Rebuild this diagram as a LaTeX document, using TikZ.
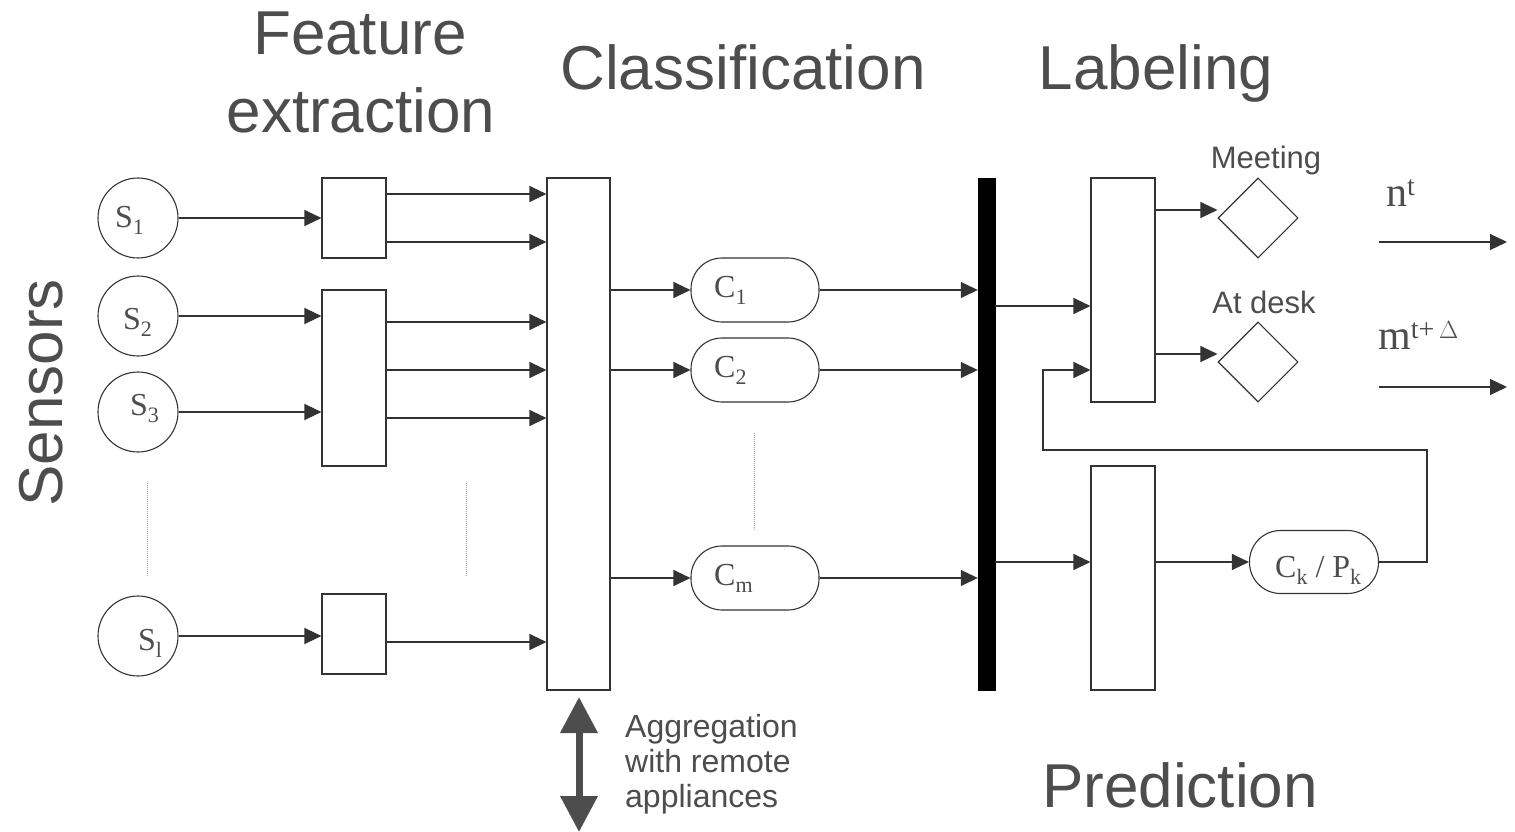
\documentclass[tikz,border=0pt]{standalone}
\usepackage{fontspec}
\setmainfont{Liberation Sans}
\newfontfamily\serifface{Liberation Serif}
\usetikzlibrary{arrows.meta,shapes.geometric,calc}
\definecolor{txt}{HTML}{4D4D4D}
\definecolor{ln}{HTML}{333333}
\newcommand\mysub[1]{\raisebox{-7pt}{\fontsize{22}{22}\selectfont #1}}
\newcommand\mysup[1]{\raisebox{11pt}{\fontsize{28}{28}\selectfont #1}}
\begin{document}
\begin{tikzpicture}[x=1pt,y=-1pt,
  box/.style={draw=ln,line width=1.1pt,fill=white,minimum width=64pt,inner sep=0pt},
  sensor/.style={circle,draw=ln,line width=1.1pt,minimum size=80pt,inner sep=0pt},
  pill/.style={draw=ln,line width=1.1pt,rounded corners=31pt,minimum width=128pt,minimum height=64pt,inner sep=0pt},
  dia/.style={diamond,draw=ln,line width=1.1pt,aspect=1,minimum size=80pt,inner sep=0pt},
  arr/.style={draw=ln,line width=1.1pt,-{Triangle[length=17pt,width=16pt]}},
  dots/.style={draw=gray!70,line width=1pt,densely dotted},
  bigarr/.style={draw=txt,line width=7pt,{Triangle[length=36pt,width=36pt]}-{Triangle[length=36pt,width=36pt]}},
  title/.style={text=txt,font=\fontsize{62}{62}\selectfont,inner sep=0pt,anchor=base},
  small/.style={text=txt,font=\fontsize{31}{30}\selectfont,inner sep=0pt},
  lab/.style={text=txt,font=\serifface\fontsize{32}{32}\selectfont,inner sep=0pt,anchor=base west},
  outlab/.style={text=txt,font=\serifface\fontsize{42}{42}\selectfont,inner sep=0pt,anchor=base west}
]
\useasboundingbox (0,0) rectangle (1515,832);

% titles
\node[title] (tfe1) at (360,55) {Feature};
\node[title] (tfe2) at (361,132) {extraction};
\node[title] (tcl) at (743,90) {Classification};
\node[title] (tlb) at (1156,90) {Labeling};
\node[title] (tpr) at (1180,807) {Prediction};
\node[title,rotate=90] (tse) at (62,393) {Sensors};

% row coordinates
\coordinate (r194) at (0,194);
\coordinate (r242) at (0,242);
\coordinate (r322) at (0,322);
\coordinate (r370) at (0,370);
\coordinate (r418) at (0,418);
\coordinate (r642) at (0,642);
\coordinate (r306) at (0,306);
\coordinate (r210) at (0,210);
\coordinate (r354) at (0,354);

% sensors
\node[sensor] (s1) at (138,218) {};
\node[sensor] (s2) at (138,316) {};
\node[sensor] (s3) at (138,412) {};
\node[sensor] (sl) at (138,636) {};
\node[lab] (s1t) at (115,227) {S\mysub{1}};
\node[lab] (s2t) at (123,329) {S\mysub{2}};
\node[lab] (s3t) at (130,415) {S\mysub{3}};
\node[lab] (slt) at (138,650) {S\mysub{l}};

% feature boxes
\node[box,minimum height=80pt] (f1) at (354,218) {};
\node[box,minimum height=176pt] (f2) at (354,378) {};
\node[box,minimum height=80pt] (f3) at (354,634) {};

% aggregation box
\node[box,minimum width=63pt,minimum height=512pt] (agg) at (578.5,434) {};

% classifiers
\node[pill] (c1) at (755,290) {};
\node[pill] (c2) at (755,370) {};
\node[pill] (cm) at (755,578) {};
\node[lab] (c1t) at (714,297) {C\mysub{1}};
\node[lab] (c2t) at (714,377) {C\mysub{2}};
\node[lab] (cmt) at (714,585) {C\mysub{m}};

% bar
\node[draw=black,fill=black,minimum width=17pt,minimum height=512pt,inner sep=0pt] (bar) at (986.5,434) {};

% labeling / prediction
\node[box,minimum height=224pt] (lb) at (1123,290) {};
\node[box,minimum height=224pt] (pr) at (1123,578) {};
\node[dia] (meet) at (1258,218) {};
\node[dia] (desk) at (1258,362) {};
\node[small,anchor=base] (meett) at (1266,168) {Meeting};
\node[small,anchor=base] (deskt) at (1264,313) {At desk};
\node[pill,minimum width=129pt,minimum height=63pt] (ck) at (1314,562) {};
\node[lab] (ckt) at (1275,577) {C\mysub{k} / P\mysub{k}};

% outputs
\node[outlab] (nt) at (1386,206) {n\mysup{t}};
\node[outlab] (mt) at (1378,349) {m\mysup{t+\,$\Delta$}};
\coordinate (n0) at (1379,242);
\coordinate (n1) at (1507,242);
\coordinate (m0) at (1379,387);
\coordinate (m1) at (1507,387);

% aggregation text and arrow
\node[text=txt,font=\fontsize{32}{35}\selectfont,inner sep=0pt,anchor=base west,align=left] (aggt) at (625,807) {Aggregation\\with remote\\appliances};
\coordinate (d0) at (579,697);
\coordinate (d1) at (579,832);
\draw[bigarr] (d0) -- (d1);

% connectors: sensors -> features
\draw[arr] (s1) -- (f1);
\draw[arr] (s2.east) -- (s2.east -| f2.west);
\draw[arr] (s3.east) -- (s3.east -| f2.west);
\draw[arr] (sl.east) -- (sl.east -| f3.west);

% features -> aggregation
\draw[arr] (f1.east |- r194) -- (agg.west |- r194);
\draw[arr] (f1.east |- r242) -- (agg.west |- r242);
\draw[arr] (f2.east |- r322) -- (agg.west |- r322);
\draw[arr] (f2.east |- r370) -- (agg.west |- r370);
\draw[arr] (f2.east |- r418) -- (agg.west |- r418);
\draw[arr] (f3.east |- r642) -- (agg.west |- r642);

% aggregation -> classifiers -> bar
\draw[arr] (agg.east |- c1) -- (c1);
\draw[arr] (agg.east |- c2) -- (c2);
\draw[arr] (agg.east |- cm) -- (cm);
\draw[arr] (c1) -- (bar.west |- c1);
\draw[arr] (c2) -- (bar.west |- c2);
\draw[arr] (cm) -- (bar.west |- cm);

% bar -> labeling / prediction
\draw[arr] (bar.east |- r306) -- (lb.west |- r306);
\draw[arr] (bar.east |- ck) -- (pr.west |- ck);
\draw[arr] (pr.east |- ck) -- (ck);

% labeling -> states
\draw[arr] (lb.east |- r210) -- (meet.west |- r210);
\draw[arr] (lb.east |- r354) -- (desk.west |- r354);

% feedback
\coordinate (fbA) at (1427,450);
\coordinate (fbB) at (1043,370);
\draw[arr] (ck.east) -| (fbA) -| (fbB) -- (fbB -| lb.west);

% outputs
\draw[arr] (n0) -- (n1);
\draw[arr] (m0) -- (m1);

% dotted continuation lines
\draw[dots] (147,483) -- (147,577);
\draw[dots] (466,483) -- (466,577);
\draw[dots] (754,433) -- (754,530);
\end{tikzpicture}
\end{document}
